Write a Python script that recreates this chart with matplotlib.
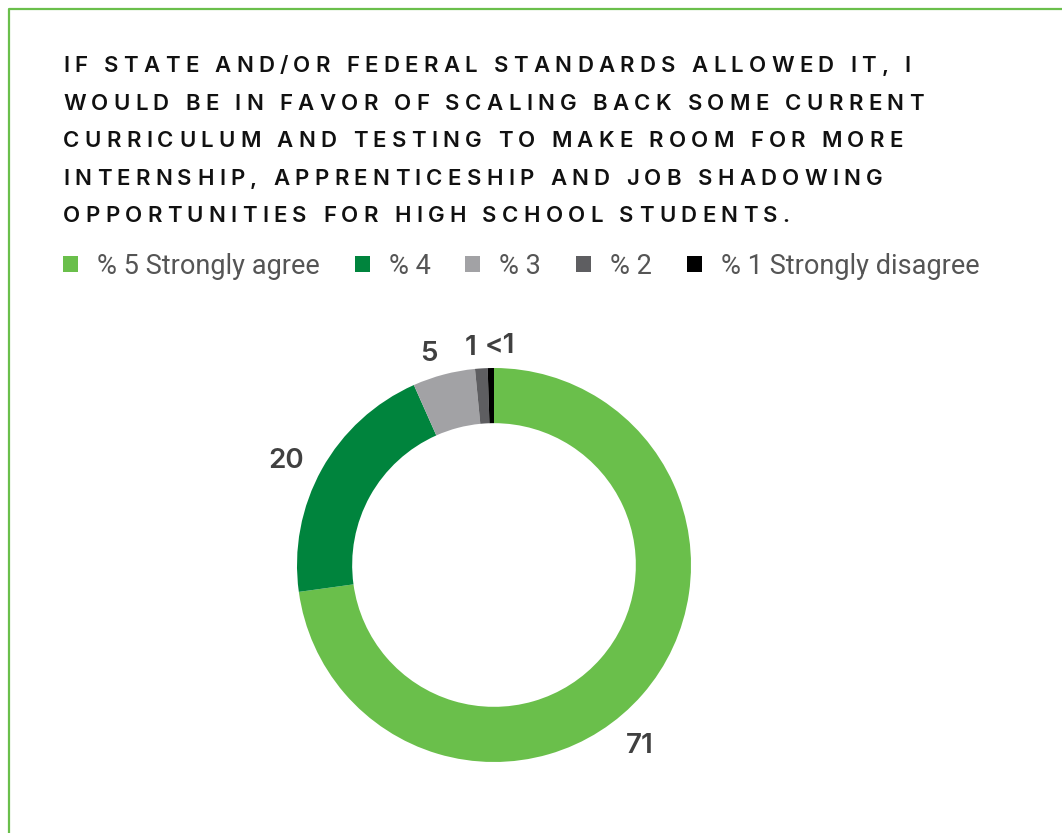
import matplotlib.pyplot as plt
from matplotlib.patches import Patch
from matplotlib.lines import Line2D
from matplotlib.font_manager import FontProperties, findfont, get_font
import numpy as np

# survey answers (share of respondents)
categories = ['% 5 Strongly agree', '% 4', '% 3', '% 2', '% 1 Strongly disagree']
values = [71, 20, 5, 1, 0.5]
value_labels = ['71', '20', '5', '1', '<1']
colors = ['#6abf4b', '#00843d', '#a2a2a5', '#5e5e61', '#000000']

title_lines = [
    'IF STATE AND/OR FEDERAL STANDARDS ALLOWED IT, I',
    'WOULD BE IN FAVOR OF SCALING BACK SOME CURRENT',
    'CURRICULUM AND TESTING TO MAKE ROOM FOR MORE',
    'INTERNSHIP, APPRENTICESHIP AND JOB SHADOWING',
    'OPPORTUNITIES FOR HIGH SCHOOL STUDENTS.',
]

W, H, DPI = 1062, 833, 100
fig = plt.figure(figsize=(W / DPI, H / DPI), dpi=DPI)
fig.patch.set_facecolor('white')

# green frame along the left and top edge
green = '#6abf4b'
fig.add_artist(Line2D([8.5 / W, 8.5 / W, 1.0], [0.0, 1 - 8.5 / H, 1 - 8.5 / H],
                      transform=fig.transFigure, color=green, lw=1.6))

# title with wide letter spacing, drawn one glyph at a time
title_fp = FontProperties(family=['Inter', 'DejaVu Sans'], weight='semibold', size=16)
ft = get_font(findfont(title_fp))
ft.set_size(16, 72)
tracking = 5.3  # px between glyphs
for i, line in enumerate(title_lines):
    x = 63.0
    y = 72 + i * 37.6
    for ch in line:
        fig.text(x / W, 1 - y / H, ch, fontproperties=title_fp, color='#111111',
                 ha='left', va='baseline')
        adv = ft.load_char(ord(ch)).linearHoriAdvance / 65536 * DPI / 72
        x += adv + tracking

# legend row
leg_fp = FontProperties(family=['Roboto', 'DejaVu Sans'], size=19.5)
handles = [Patch(facecolor=c, edgecolor='none') for c in colors]
fig.legend(handles, categories, loc='center left', bbox_to_anchor=(63 / W, 1 - 266 / H),
           ncol=5, frameon=False, prop=leg_fp, labelcolor='#555555',
           handlelength=0.56, handleheight=0.56, handletextpad=0.7,
           columnspacing=1.28, borderaxespad=0, borderpad=0)

# donut
R = 197.0
cx, cy = 494.0, 565.0
half = 300.0
ax = fig.add_axes([(cx - half) / W, (H - cy - half) / H, 2 * half / W, 2 * half / H])
wedges, _ = ax.pie(values, colors=colors, startangle=90, counterclock=False,
                   wedgeprops=dict(width=0.28, edgecolor='none'))
lim = half / R
ax.set_xlim(-lim, lim)
ax.set_ylim(-lim, lim)
ax.set_aspect('equal')
ax.axis('off')

# value labels around the ring
nudge = [-10, 2.5, 2.5, 2.5, -2.5]
dist = [1.18, 1.18, 1.12, 1.11, 1.11]
for w, lab, dn, r in zip(wedges, value_labels, nudge, dist):
    ang = np.deg2rad((w.theta1 + w.theta2) / 2 + dn)
    ax.text(r * np.cos(ang), r * np.sin(ang), lab, ha='center', va='center',
            fontsize=20, fontweight='semibold', color='#404040',
            family=['Inter', 'DejaVu Sans'])

fig.savefig('out.png', dpi=DPI)
